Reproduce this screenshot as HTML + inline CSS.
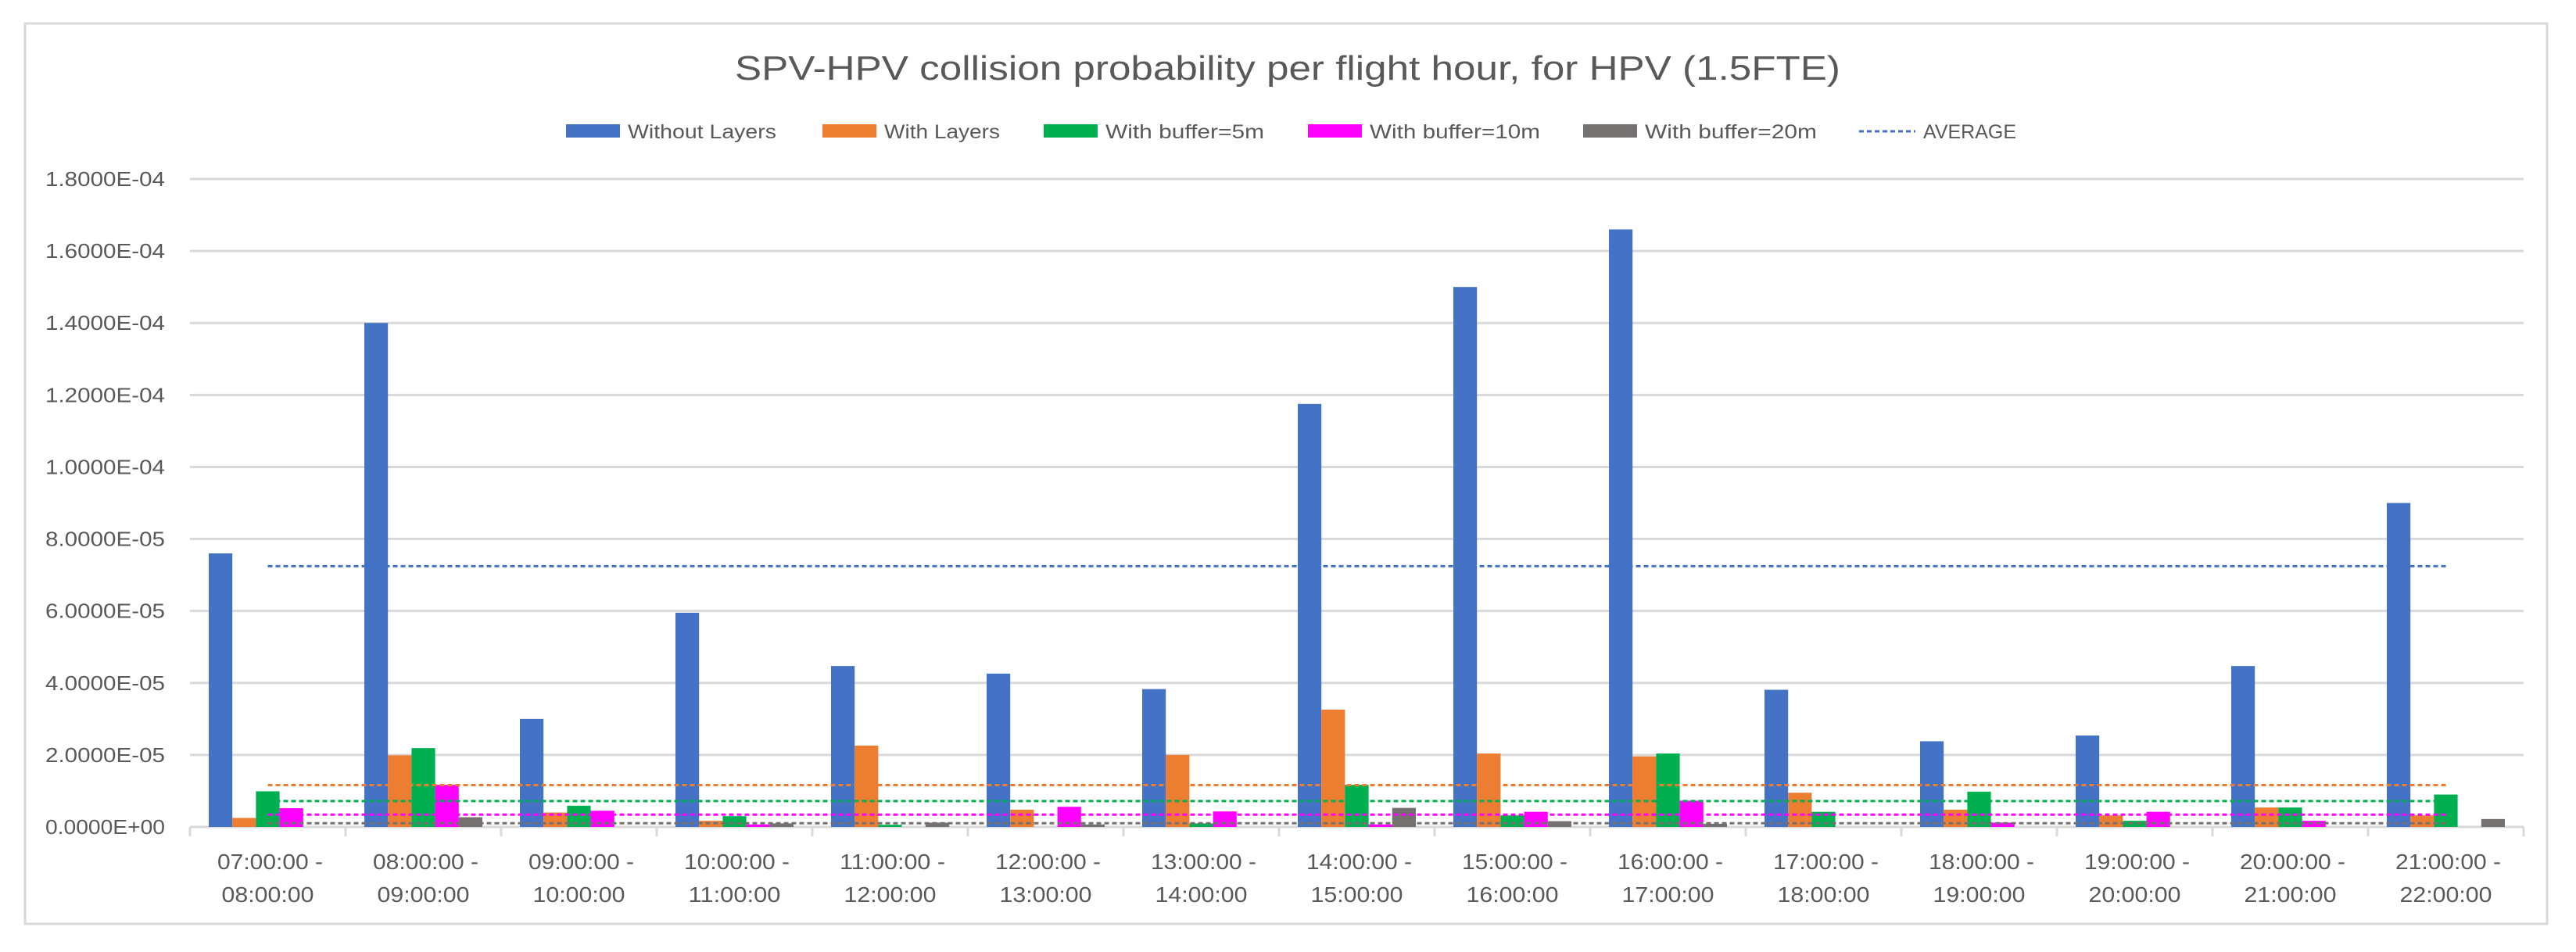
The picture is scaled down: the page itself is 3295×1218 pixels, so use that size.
<!DOCTYPE html>
<html><head><meta charset="utf-8"><style>
html,body{margin:0;padding:0;background:#fff;}
svg{display:block;font-family:"Liberation Sans",sans-serif;}
</style></head><body>
<svg id="chart" width="3295" height="1218" viewBox="0 0 3295 1218" xmlns="http://www.w3.org/2000/svg">
<rect x="32" y="30" width="3226" height="1152" fill="#fff" stroke="#d9d9d9" stroke-width="3"/>
<text x="1647" y="102" text-anchor="middle" font-size="44" fill="#595959" textLength="1414" lengthAdjust="spacingAndGlyphs">SPV-HPV collision probability per flight hour, for HPV (1.5FTE)</text>
<g id="grid"></g>
<g id="yaxis"></g>
<g id="xaxis"></g>
<g id="bars"></g>
<g id="avgs"></g>
<g id="legend"></g>
</svg>
<script>
const categories = ["07:00:00 -|08:00:00","08:00:00 -|09:00:00","09:00:00 -|10:00:00","10:00:00 -|11:00:00","11:00:00 -|12:00:00","12:00:00 -|13:00:00","13:00:00 -|14:00:00","14:00:00 -|15:00:00","15:00:00 -|16:00:00","16:00:00 -|17:00:00","17:00:00 -|18:00:00","18:00:00 -|19:00:00","19:00:00 -|20:00:00","20:00:00 -|21:00:00","21:00:00 -|22:00:00"];
const withoutLayers = [7.6,14.0,3.0,5.95,4.47,4.26,3.83,11.75,15.0,16.6,3.81,2.38,2.54,4.47,9.0];
const withLayers = [0.25,1.99,0.4,0.17,2.26,0.48,2.0,3.26,2.04,1.96,0.95,0.48,0.32,0.54,0.32];
const buffer5 = [0.99,2.19,0.59,0.3,0.06,0,0.1,1.17,0.32,2.04,0.42,0.98,0.17,0.54,0.9];
const buffer10 = [0.52,1.17,0.45,0.07,0,0.56,0.43,0.07,0.42,0.73,0,0.12,0.42,0.17,0];
const buffer20 = [0,0.27,0,0.1,0.12,0.07,0,0.53,0.16,0.09,0,0,0,0,0.22];
const yTicks = [0,2,4,6,8,10,12,14,16,18];
const yTickLabels = ["0.0000E+00","2.0000E-05","4.0000E-05","6.0000E-05","8.0000E-05","1.0000E-04","1.2000E-04","1.4000E-04","1.6000E-04","1.8000E-04"];
const seriesNames = ["Without Layers","With Layers","With buffer=5m","With buffer=10m","With buffer=20m"];

const series=[withoutLayers,withLayers,buffer5,buffer10,buffer20];
const colors=["#4472c4","#ed7d31","#00b050","#ff00ff","#767171"];
const NS="http://www.w3.org/2000/svg";
const X0=243,X1=3228,Y0=1058,YTOP=229,YMAX=18;
const catW=(X1-X0)/categories.length, barW=30.2;
function y(v){return Y0-(v/YMAX)*(Y0-YTOP);}
function xc(i){return X0+catW*(i+0.5);}
function mk(tag,attrs,parent){const e=document.createElementNS(NS,tag);for(const k in attrs)e.setAttribute(k,attrs[k]);parent.appendChild(e);return e;}
const grid=document.getElementById('grid'),yax=document.getElementById('yaxis'),xax=document.getElementById('xaxis'),bars=document.getElementById('bars'),avgs=document.getElementById('avgs'),leg=document.getElementById('legend');
yTicks.forEach((t,i)=>{
  if(t>0){const l=mk('line',{x1:X0,x2:X1,y1:y(t),y2:y(t),stroke:'#d9d9d9','stroke-width':3},grid);
  
  }
  const tx=mk('text',{x:211,y:y(t)+9,'text-anchor':'end','font-size':26,fill:'#595959',textLength:153,lengthAdjust:'spacingAndGlyphs'},yax);
  tx.textContent=yTickLabels[i];
  
  
});
const ax=mk('line',{x1:X0,x2:X1,y1:Y0,y2:Y0,stroke:'#d9d9d9','stroke-width':3},xax);


for(let i=0;i<=categories.length;i++){
  const tk=mk('line',{x1:X0+catW*i,x2:X0+catW*i,y1:Y0,y2:Y0+12,stroke:'#d9d9d9','stroke-width':3},xax);
  
  
}
categories.forEach((c,i)=>{
  const p=c.split('|');
  const t1=mk('text',{x:xc(i)+3,y:1112,'text-anchor':'middle','font-size':28,fill:'#595959',textLength:135,lengthAdjust:'spacingAndGlyphs'},xax);
  t1.textContent=p[0];
  
  
  const t2=mk('text',{x:xc(i),y:1154,'text-anchor':'middle','font-size':28,fill:'#595959',textLength:118,lengthAdjust:'spacingAndGlyphs'},xax);
  t2.textContent=p[1];
  
  
});
series.forEach((s,k)=>{
  s.forEach((v,i)=>{
    if(v<=0)return;
    const bx=xc(i)-2.5*barW+k*barW;
    const r=mk('rect',{x:bx,y:y(v),width:barW,height:Y0-y(v),fill:colors[k]},bars);
    
    
  });
});
series.forEach((s,k)=>{
  const avg=s.reduce((a,b)=>a+b,0)/s.length;
  const l=mk('line',{x1:xc(0),x2:xc(categories.length-1),y1:y(avg),y2:y(avg),stroke:colors[k],'stroke-width':3,'stroke-dasharray':'6,4'},avgs);
  
  
});
const legX=[724,1052,1335,1673,2025], legEnd=[993,1279,1617,1970,2324];
seriesNames.forEach((n,k)=>{
  const r=mk('rect',{x:legX[k],y:159,width:69,height:17,fill:colors[k]},leg);
  
  
  const t=mk('text',{x:legX[k]+79,y:177,'font-size':25,fill:'#595959',textLength:legEnd[k]-legX[k]-79,lengthAdjust:'spacingAndGlyphs'},leg);
  t.textContent=n;
  
  
});
const al=mk('line',{x1:2378,x2:2450,y1:168,y2:168,stroke:'#4472c4','stroke-width':3,'stroke-dasharray':'6,4'},leg);


const at=mk('text',{x:2460,y:177,'font-size':25,fill:'#595959',textLength:119,lengthAdjust:'spacingAndGlyphs'},leg);
at.textContent='AVERAGE';


</script>
</body></html>
